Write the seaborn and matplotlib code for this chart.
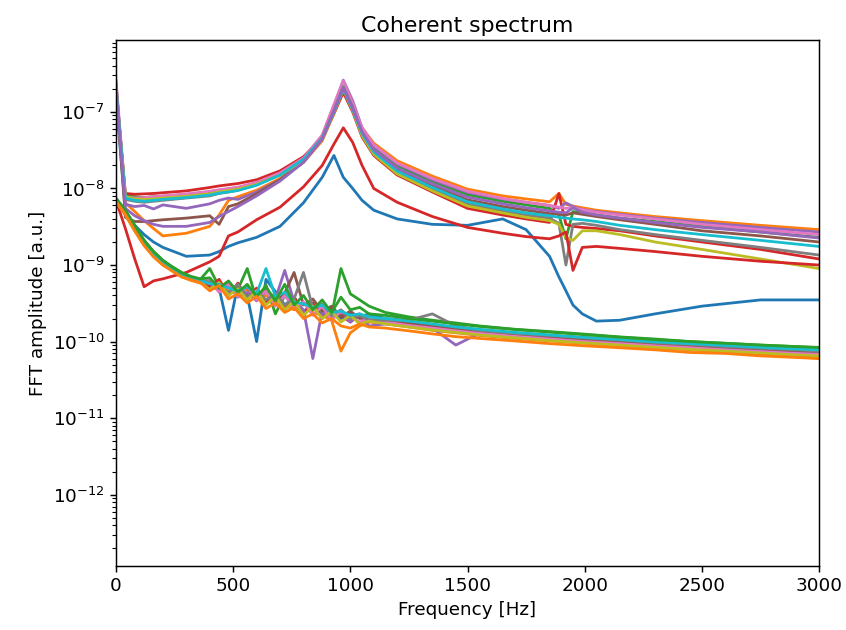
import numpy as np
import pandas as pd
import matplotlib
matplotlib.use("Agg")
import matplotlib.pyplot as plt
import seaborn as sns

# ---------------- data ----------------
# Upper (coherent) group: amplitudes in units of 1e-9 a.u.
UNIT_UPPER = 1e-9
FREQ_UPPER = [0, 40, 80, 120, 160, 200, 300, 400, 440, 480, 520, 600, 700, 800, 880, 930, 970,
              1010, 1050, 1100, 1200, 1350, 1500, 1650, 1750, 1850, 1890, 1920, 1950, 1990,
              2050, 2150, 2300, 2500, 2750, 3000]

up_blue = [150, 5.0, 3.3, 2.5, 2.0, 1.7, 1.3, 1.35, 1.5, 1.75, 1.95, 2.3, 3.2, 6.5, 14, 27, 14, 10,
           7.0, 5.2, 4.0, 3.4, 3.3, 4.0, 2.9, 1.3, 0.7, 0.46, 0.3, 0.23, 0.185, 0.19, 0.23, 0.29,
           0.35, 0.35]
up_orange = [180, 6.5, 5.0, 3.8, 3.0, 2.4, 2.6, 3.2, 4.5, 7.0, 7.8, 9.5, 13.5, 22, 42, 95, 190, 110,
             62, 39, 23, 14.5, 9.8, 8.0, 7.3, 6.7, 8.6, 6.2, 5.9, 5.6, 5.2, 4.8, 4.3, 3.8, 3.3, 2.9]
up_green = [220, 8.0, 7.8, 7.6, 7.8, 7.9, 8.3, 9.0, 9.5, 9.8, 10.2, 11.5, 15.5, 24, 46, 105, 210,
            115, 57, 34, 19.5, 12.3, 8.3, 6.8, 6.1, 5.5, 4.5, 2.2, 5.0, 4.8, 4.5, 4.1, 3.7, 3.2,
            2.7, 2.3]
up_red = [200, 8.6, 8.4, 8.5, 8.6, 8.8, 9.3, 10.3, 10.8, 11.2, 11.6, 13, 17, 26, 46, 95, 180, 100,
          47, 27, 15, 9.0, 5.5, 4.5, 4.0, 3.6, 8.6, 3.4, 3.2, 3.1, 3.0, 2.8, 2.4, 2.0, 1.6, 1.2]
up_purple = [250, 6.2, 5.8, 6.0, 5.4, 6.1, 5.5, 6.3, 7.0, 7.5, 7.2, 9.0, 13, 23, 48, 120, 260, 140,
             62, 36, 21, 13, 8.9, 7.3, 6.6, 6.0, 5.5, 6.5, 5.8, 5.3, 5.0, 4.6, 4.1, 3.6, 3.1, 2.7]
up_brown = [220, 4.2, 3.7, 3.7, 3.8, 3.9, 4.1, 4.4, 3.4, 5.8, 6.3, 8.5, 13, 22, 44, 100, 200, 112,
            53, 31, 17.5, 10.8, 7.1, 5.8, 5.2, 4.7, 4.6, 4.5, 4.8, 4.6, 4.3, 3.9, 3.4, 2.8, 2.4, 2.0]
up_pink = [260, 7.8, 7.5, 7.6, 7.8, 8.0, 8.5, 9.2, 9.6, 10.0, 10.4, 12, 16, 25, 50, 125, 255, 130,
           62, 37, 21.5, 13.5, 9.2, 7.4, 6.6, 6.0, 5.7, 5.5, 5.6, 5.3, 4.9, 4.5, 4.0, 3.4, 2.9, 2.5]
up_gray = [230, 7.2, 6.8, 6.6, 6.8, 7.0, 7.5, 8.0, 8.6, 9.0, 9.5, 11.2, 15, 24, 46, 105, 215, 115,
           51, 29, 16.2, 9.8, 6.3, 5.1, 4.5, 4.1, 3.5, 1.0, 3.4, 3.5, 3.3, 2.9, 2.5, 2.1, 1.7, 1.35]
up_olive = [200, 7.8, 7.3, 7.2, 7.3, 7.5, 7.9, 8.5, 9.0, 9.4, 9.8, 11.3, 15, 23, 44, 98, 195, 105,
            49, 28, 15.5, 9.3, 5.9, 4.8, 4.2, 3.8, 3.4, 2.3, 2.1, 2.8, 2.8, 2.5, 2.0, 1.6, 1.2, 0.9]
up_cyan = [210, 7.5, 7.0, 6.8, 7.0, 7.2, 7.6, 8.2, 8.7, 9.0, 9.4, 11, 15, 24, 45, 100, 200, 108,
           52, 30, 16.8, 10.3, 6.7, 5.4, 4.8, 4.4, 4.2, 4.1, 4.0, 3.9, 3.7, 3.3, 2.9, 2.5, 2.1, 1.75]
up_red2 = [7.0, 3.0, 1.2, 0.52, 0.62, 0.66, 0.8, 1.1, 1.3, 2.4, 2.7, 3.9, 5.7, 10.5, 20, 38, 62,
           40, 20, 10, 6.6, 4.3, 3.1, 2.6, 2.35, 2.2, 2.4, 2.7, 0.85, 1.7, 1.75, 1.65, 1.5, 1.3,
           1.12, 1.0]
up_purple2 = [210, 5.5, 4.4, 3.8, 3.4, 3.2, 3.2, 3.6, 4.3, 5.0, 5.8, 8.0, 12.5, 22, 44, 102, 205,
              112, 55, 32, 18.5, 11.5, 7.7, 6.3, 5.6, 5.1, 4.9, 4.8, 5.6, 4.9, 4.5, 4.1, 3.6, 3.1,
              2.7, 2.25]

# Lower (incoherent) group: amplitudes in units of 1e-10 a.u.
UNIT_LOWER = 1e-10
FREQ_LOWER = [0, 40, 80, 120, 160, 200, 240, 280, 320, 360, 400, 440, 480, 520, 560, 600, 640,
              680, 720, 760, 800, 840, 880, 920, 960, 1000, 1040, 1080, 1150, 1250, 1350, 1450,
              1550, 1700, 1850, 2000, 2150, 2300, 2450, 2600, 2750, 2900, 3000]

lo_blue = [72, 50, 31, 20, 14, 11, 9.2, 7.6, 6.5, 6.0, 5.6, 5.0, 1.4, 5.5, 4.0, 1.0, 6.5, 4.5, 3.0,
           3.8, 2.5, 2.9, 2.2, 2.6, 2.0, 2.4, 2.1, 2.3, 2.0, 1.85, 1.6, 1.55, 1.4, 1.3, 1.2, 1.12,
           1.05, 0.98, 0.92, 0.88, 0.84, 0.8, 0.78]
lo_orange = [68, 45, 28, 18, 13, 10, 8.5, 7, 6.3, 5.8, 5.5, 5.0, 4.6, 4.5, 4.8, 3.6, 4.0, 3.4, 3.0,
             2.6, 3.2, 2.4, 2.2, 1.9, 0.75, 1.3, 1.6, 1.8, 1.7, 1.55, 1.4, 1.3, 1.2, 1.1, 1.02,
             0.95, 0.88, 0.83, 0.78, 0.72, 0.68, 0.64, 0.6]
lo_green = [75, 52, 33, 21, 15, 11.5, 9.5, 8, 7, 6.5, 9.0, 5.2, 5.6, 4.8, 9.0, 3.5, 5.5, 2.3, 4.0,
            3.3, 2.2, 3.0, 2.5, 2.2, 9.0, 4.2, 3.5, 2.9, 2.4, 2.1, 1.9, 1.75, 1.6, 1.45, 1.35,
            1.25, 1.15, 1.08, 1.0, 0.95, 0.9, 0.86, 0.83]
lo_red = [70, 47, 29, 19, 13.5, 10.5, 8.8, 7.2, 6.6, 6.0, 5.2, 6.5, 4.0, 5.8, 3.6, 5.0, 3.2, 4.3,
          2.6, 3.8, 2.4, 3.2, 2.0, 2.7, 2.2, 1.8, 2.3, 1.9, 1.85, 1.65, 1.5, 1.38, 1.3, 1.18,
          1.08, 1.0, 0.93, 0.87, 0.82, 0.77, 0.72, 0.68, 0.65]
lo_purple = [66, 46, 29, 19, 14, 10.8, 9, 7.4, 6.7, 6.1, 5.7, 4.6, 5.4, 3.8, 4.4, 3.4, 4.5, 3.6,
             8.5, 3.3, 2.6, 0.6, 2.5, 2.0, 2.4, 1.8, 2.2, 1.6, 1.7, 1.6, 1.5, 0.9, 1.28, 1.18,
             1.1, 1.0, 0.95, 0.88, 0.84, 0.8, 0.75, 0.72, 0.7]
lo_brown = [71, 49, 31, 20, 14, 11, 9, 7.6, 6.9, 6.3, 5.9, 4.8, 6.0, 4.2, 5.2, 3.6, 4.8, 3.2, 4.3,
            8.0, 3.0, 3.6, 2.5, 2.9, 2.1, 2.5, 2.0, 2.1, 1.95, 1.75, 1.6, 1.48, 1.38, 1.25, 1.15,
            1.07, 1.0, 0.93, 0.88, 0.83, 0.79, 0.75, 0.72]
lo_pink = [69, 48, 30, 19.5, 13.8, 10.8, 8.9, 7.4, 6.7, 6.2, 6.3, 4.4, 5.6, 3.9, 5.4, 3.5, 4.6,
           2.9, 4.0, 2.7, 3.3, 2.2, 2.9, 1.9, 2.5, 2.1, 1.8, 2.0, 1.8, 1.62, 1.5, 1.38, 1.28,
           1.17, 1.08, 1.0, 0.94, 0.88, 0.83, 0.78, 0.74, 0.7, 0.68]
lo_gray = [70, 48, 30, 20, 14, 11, 9.1, 7.5, 6.8, 6.3, 6.0, 5.0, 4.4, 5.6, 3.8, 4.6, 3.5, 4.2, 3.0,
           3.6, 8.0, 2.7, 3.1, 2.2, 2.6, 2.0, 2.2, 1.9, 1.9, 1.9, 2.3, 1.6, 1.4, 1.28, 1.2, 1.12,
           1.05, 0.97, 0.92, 0.86, 0.82, 0.78, 0.75]
lo_olive = [67, 46, 28, 18.5, 13.2, 10.3, 8.6, 7.2, 6.5, 6.0, 4.8, 5.9, 4.0, 4.9, 3.5, 4.6, 3.0,
            3.9, 2.6, 3.4, 2.2, 2.9, 2.0, 2.5, 1.8, 2.2, 1.7, 1.85, 1.7, 1.55, 1.42, 1.32, 1.22,
            1.12, 1.03, 0.96, 0.9, 0.84, 0.79, 0.75, 0.71, 0.67, 0.65]
lo_cyan = [71, 49, 30, 19.5, 14, 11, 9, 7.5, 6.8, 6.3, 5.7, 5.6, 5.0, 4.6, 5.2, 4.2, 9.0, 3.9, 4.4,
           3.3, 3.1, 2.8, 3.0, 2.4, 2.5, 2.2, 2.3, 2.1, 2.0, 1.85, 1.7, 1.55, 1.45, 1.32, 1.22,
           1.13, 1.06, 0.99, 0.94, 0.89, 0.84, 0.8, 0.78]
lo_green2 = [73, 51, 32, 21, 15, 11.5, 9.4, 7.9, 7.1, 6.6, 6.8, 5.0, 6.2, 4.4, 5.6, 3.9, 5.2, 3.4,
             5.6, 3.0, 4.0, 2.6, 3.5, 2.4, 3.8, 2.6, 2.8, 2.3, 2.2, 2.0, 1.85, 1.7, 1.58, 1.44,
             1.33, 1.23, 1.14, 1.06, 1.0, 0.95, 0.9, 0.86, 0.84]
lo_orange2 = [68, 46, 28, 18, 12.8, 10, 8.3, 7, 6.4, 5.9, 4.6, 5.4, 3.6, 4.2, 3.2, 3.9, 2.7, 3.2,
              2.4, 2.8, 2.0, 2.3, 1.75, 2.0, 1.6, 1.5, 1.7, 1.55, 1.5, 1.38, 1.26, 1.16, 1.1, 1.02,
              0.94, 0.88, 0.83, 0.78, 0.72, 0.7, 0.65, 0.62, 0.6]

# series name, values, group, tab10 colour index
SERIES = [
    ("up_blue", up_blue, "upper", 0), ("up_orange", up_orange, "upper", 1),
    ("up_green", up_green, "upper", 2), ("up_red", up_red, "upper", 3),
    ("up_purple", up_purple, "upper", 4), ("up_brown", up_brown, "upper", 5),
    ("up_pink", up_pink, "upper", 6), ("up_gray", up_gray, "upper", 7),
    ("up_olive", up_olive, "upper", 8), ("up_cyan", up_cyan, "upper", 9),
    ("up_red2", up_red2, "upper", 3), ("up_purple2", up_purple2, "upper", 4),
    ("lo_blue", lo_blue, "lower", 0), ("lo_orange", lo_orange, "lower", 1),
    ("lo_green", lo_green, "lower", 2), ("lo_red", lo_red, "lower", 3),
    ("lo_purple", lo_purple, "lower", 4), ("lo_brown", lo_brown, "lower", 5),
    ("lo_pink", lo_pink, "lower", 6), ("lo_gray", lo_gray, "lower", 7),
    ("lo_olive", lo_olive, "lower", 8), ("lo_cyan", lo_cyan, "lower", 9),
    ("lo_green2", lo_green2, "lower", 2), ("lo_orange2", lo_orange2, "lower", 1),
]

# ---------------- build long-form table ----------------
rows = []
for name, vals, grp, _ in SERIES:
    freqs = FREQ_UPPER if grp == "upper" else FREQ_LOWER
    unit = UNIT_UPPER if grp == "upper" else UNIT_LOWER
    for f, v in zip(freqs, vals):
        rows.append({"series": name, "freq": f, "amp": v * unit})
df = pd.DataFrame(rows)

tab10 = sns.color_palette("tab10")
palette = {name: tab10[ci] for name, _, _, ci in SERIES}
order = [name for name, _, _, _ in SERIES]

# ---------------- figure ----------------
s = 1.32
plt.rcParams.update({
    "font.family": ["DejaVu Sans"],
    "font.size": 10 * s,
    "axes.linewidth": 0.8 * s,
    "xtick.major.size": 3.5 * s, "ytick.major.size": 3.5 * s,
    "xtick.minor.size": 2.0 * s, "ytick.minor.size": 2.0 * s,
    "xtick.major.width": 0.8 * s, "ytick.major.width": 0.8 * s,
    "xtick.minor.width": 0.6 * s, "ytick.minor.width": 0.6 * s,
})

fig = plt.figure(figsize=(8.46, 6.30), dpi=100)
ax = fig.add_axes([116 / 846, 1 - 566 / 630, (819 - 116) / 846, (566 - 40) / 630])

sns.lineplot(data=df, x="freq", y="amp", hue="series", hue_order=order, palette=palette,
             estimator=None, sort=True, linewidth=2.0, legend=False, ax=ax)

ax.set_yscale("log")
ax.set_xlim(0, 3000)
ax.set_ylim(1.17e-13, 8.7e-7)
ax.set_xticks([0, 500, 1000, 1500, 2000, 2500, 3000])
ax.set_xlabel("Frequency [Hz]", fontsize=10 * s)
ax.set_ylabel("FFT amplitude [a.u.]", fontsize=10 * s)
ax.set_title("Coherent spectrum", fontsize=12 * s)
ax.tick_params(labelsize=10 * s)

fig.savefig("out.png", dpi=100)
